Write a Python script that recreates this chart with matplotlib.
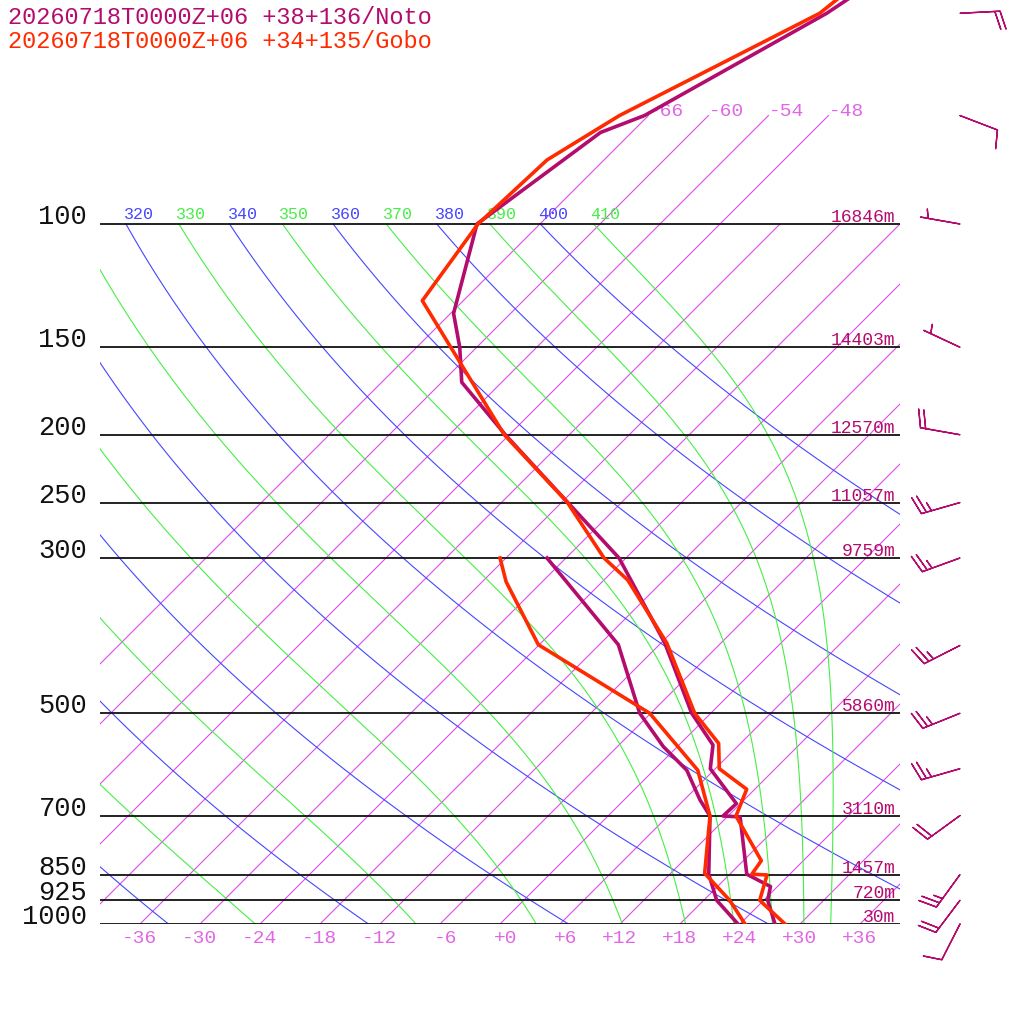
import numpy as np
import matplotlib
matplotlib.use("Agg")
import matplotlib.pyplot as plt
from matplotlib.transforms import Affine2D

# ------------------------
# DATA
# ------------------------

title_noto = "20260718T0000Z+06 +38+136/Noto"
title_gobo = "20260718T0000Z+06 +34+135/Gobo"

# standard levels drawn as isobars, with Noto geopotential heights
isobars = [1000, 925, 850, 700, 500, 300, 250, 200, 150, 100]
isobar_labels = ["1000", "925", "850", "700", "500", "300", "250", "200", "150", "100"]
heights = ["30m", "720m", "1457m", "3110m", "5860m", "9759m", "11057m", "12570m", "14403m", "16846m"]

# background lines
isotherms = [-66, -60, -54, -48, -42, -36, -30, -24, -18, -12, -6, 0, 6, 12, 18, 24, 30, 36]
isotherm_top_labels = [-66, -60, -54, -48]
isotherm_bottom_labels = [-36, -30, -24, -18, -12, -6, 0, 6, 12, 18, 24, 30, 36]
dry_thetas = [240, 260, 280, 300, 320, 340, 360, 380, 400]
moist_thetas = [250, 270, 290, 310, 330, 350, 370, 390, 410]
theta_labels = [310, 320, 330, 340, 350, 360, 370, 380, 390, 400, 410]

# Noto (+38+136) temperature / dewpoint
noto_t_p = [45, 50, 70, 74, 100, 134.2, 150, 168.3, 200, 300, 397, 500,
            555, 600, 673, 701, 703, 849, 884, 925, 1000]
noto_t = [-56.8, -58.4, -66.4, -69.1, -72.3, -65.7, -61.7, -58.0, -48.4, -24.7, -11.6, -1.9,
          3.4, 5.5, 11.6, 11.5, 13.3, 19.7, 23.3, 24.4, 27.5]
noto_td_p = [300, 399, 500, 558, 603, 665, 701, 849, 925, 1000]
noto_td = [-31.9, -16.1, -7.1, -1.4, 3.3, 7.6, 10.2, 15.9, 19.3, 23.8]

# Gobo (+34+135) temperature / dewpoint
gobo_t_p = [45, 50, 70, 81, 100, 128.7, 200, 249.5, 300, 322.7, 397, 500,
            552, 600, 642, 701, 812, 849, 851, 925, 1000]
gobo_t = [-58.3, -59.1, -68.9, -71.7, -72.2, -70.1, -48.5, -35.5, -26.2, -21.6, -11.4, -1.6,
          3.8, 6.4, 11.2, 12.8, 19.8, 20.2, 21.8, 23.6, 28.5]
gobo_td_p = [300, 324.5, 399, 500, 603, 701, 846.5, 925, 1000]
gobo_td = [-36.6, -33.6, -24.1, -6.1, 4.4, 10.2, 15.4, 20.6, 24.5]

# Noto winds
wind_p = [50, 70, 100, 150, 200, 250, 300, 400, 500, 600, 700, 850, 925, 1000]
wind_dir = [87, 111, 280, 295, 280, 254, 250, 243, 248, 254, 234, 216, 217, 207]
wind_kt = [20, 10, 5, 5, 20, 25, 25, 25, 25, 25, 20, 25, 20, 10]

# ------------------------
# STYLE
# ------------------------

NOTO = "#b40c6e"
GOBO = "#ff2a00"
ISO = "#dc4ee8"
ISO_TXT = "#e066e6"
BLUE = "#4646ff"
GREEN = "#46ee46"
MONO = "Liberation Mono"


def moist_adiabat(theta, p):
    # pseudo-adiabat integrated down from the top pressure (RK4)
    Rd, cp, Lv, eps = 287.04, 1005.7, 2.501e6, 0.622

    def rate(pp, T):
        es = 6.112 * np.exp(17.67 * (T - 273.15) / (T - 29.65))
        rs = eps * es / (pp - es)
        return (Rd * T + Lv * rs) / (pp * (cp + Lv ** 2 * rs * eps / (Rd * T ** 2)))

    T = theta * (p[0] / 1000.0) ** (Rd / cp)
    out = [T]
    for p0, p1 in zip(p[:-1], p[1:]):
        h = p1 - p0
        k1 = rate(p0, T)
        k2 = rate(p0 + h / 2, T + h / 2 * k1)
        k3 = rate(p0 + h / 2, T + h / 2 * k2)
        k4 = rate(p1, T + h * k3)
        T = T + h / 6 * (k1 + 2 * k2 + 2 * k3 + k4)
        out.append(T)
    return np.array(out) - 273.15


fig = plt.figure(figsize=(10.24, 10.24), dpi=100)
fig.patch.set_facecolor("white")
ax = fig.add_axes([100 / 1024, 100 / 1024, 800 / 1024, 924 / 1024])
ax.set_yscale("log")
ax.set_xlim(-40, 40)
ax.set_ylim(1000, 1000 * 10 ** (-924 / 700))
ax.axis("off")

# 45 degree skew about the 1000 hPa line
y0 = ax.transData.transform((0, 1000))[1]
skew = ax.transData + Affine2D().translate(0, -y0).skew_deg(45, 0).translate(0, y0)

# isotherms
for t in isotherms:
    ptop = 70 if t <= -48 else 100
    ax.plot([t, t], [1000, ptop], transform=skew, color=ISO, lw=0.8, zorder=1)

# dry adiabats
p_dry = np.geomspace(1000, 100, 120)
for th in dry_thetas:
    ax.plot(th * (p_dry / 1000) ** 0.2857 - 273.15, p_dry, transform=skew,
            color=BLUE, lw=0.8, zorder=1)

# moist adiabats
p_moist = np.geomspace(100, 1000, 400)
for th in moist_thetas:
    ax.plot(moist_adiabat(th, p_moist), p_moist, transform=skew,
            color=GREEN, lw=0.8, zorder=1)

# isobars
for p in isobars:
    ax.axhline(p, color="#111111", lw=1.3, zorder=2)

# theta labels along 100 hPa (clipped at the left edge)
for th in theta_labels:
    c = BLUE if th in dry_thetas else GREEN
    t100 = th * 0.1 ** 0.2857 - 273.15
    a = ax.annotate(str(th), xy=(t100, 100), xycoords=skew, xytext=(-2, 5),
                    textcoords="offset pixels", ha="left", va="baseline",
                    color=c, fontsize=12, family=MONO)
    a.set_clip_on(True)
    a.set_clip_box(ax.bbox)

# isotherm labels
for t in isotherm_bottom_labels:
    ax.annotate(f"{t:+d}", xy=(t, 1000), xycoords=skew, xytext=(17, -6),
                textcoords="offset pixels", ha="right", va="top",
                color=ISO_TXT, fontsize=14, family=MONO)
for t in isotherm_top_labels:
    ax.annotate(f"{t:+d}", xy=(t, 70), xycoords=skew, xytext=(0, 0),
                textcoords="offset pixels", ha="left", va="baseline",
                color=ISO_TXT, fontsize=14, family=MONO)

# pressure and height labels
for p, lab, h in zip(isobars, isobar_labels, heights):
    ax.text(-0.016, p, lab, transform=ax.get_yaxis_transform(), ha="right",
            va="baseline", fontsize=19.5, family=MONO, color="#111111")
    ax.annotate(h, xy=(0.994, p), xycoords=ax.get_yaxis_transform(), xytext=(0, 2),
                textcoords="offset pixels", ha="right", va="baseline",
                color=NOTO, fontsize=13, family=MONO)

# soundings
ax.plot(noto_t, noto_t_p, transform=skew, color=NOTO, lw=2.6, zorder=5)
ax.plot(noto_td, noto_td_p, transform=skew, color=NOTO, lw=2.6, zorder=5)
ax.plot(gobo_t, gobo_t_p, transform=skew, color=GOBO, lw=2.6, zorder=6)
ax.plot(gobo_td, gobo_td_p, transform=skew, color=GOBO, lw=2.6, zorder=6)

# wind barbs (Noto)
d = np.deg2rad(wind_dir)
u = -np.array(wind_kt) * np.sin(d)
v = -np.array(wind_kt) * np.cos(d)
ax.barbs(np.full(len(wind_p), 1.075), wind_p, u, v,
         transform=ax.get_yaxis_transform(), length=7.6, color=NOTO,
         linewidth=1.0, sizes=dict(height=0.45, spacing=0.13, emptybarb=0.0),
         clip_on=False, zorder=7)

fig.text(8 / 1024, 1 - 17 / 1024, title_noto, color=NOTO, fontsize=17, family=MONO,
         ha="left", va="center")
fig.text(8 / 1024, 1 - 41 / 1024, title_gobo, color=GOBO, fontsize=17, family=MONO,
         ha="left", va="center")

fig.savefig("out.png", dpi=100)
